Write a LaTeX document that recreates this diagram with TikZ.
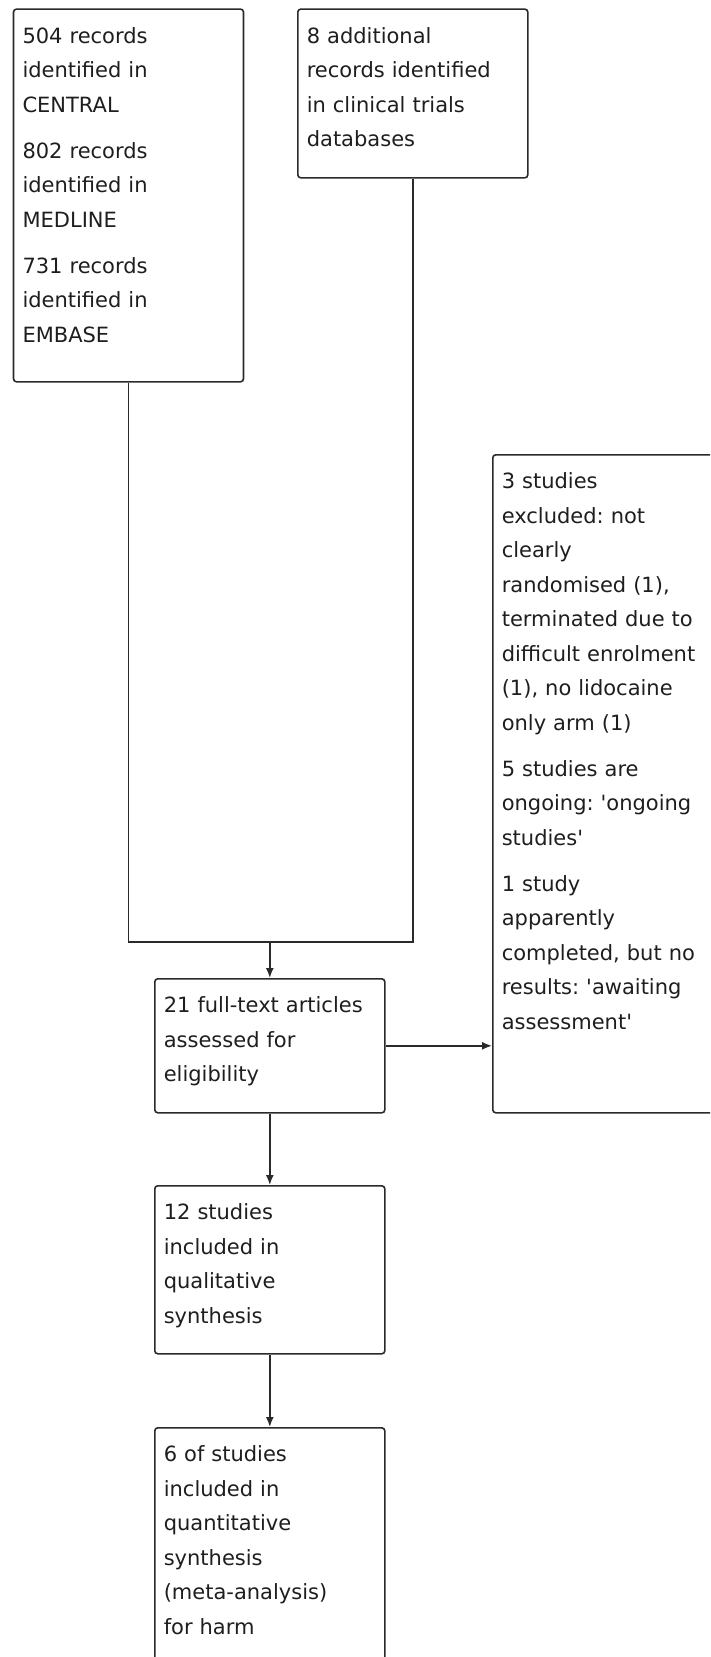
\documentclass[tikz,border=0pt]{standalone}
\usepackage{fontspec}
\setmainfont{DejaVu Sans}
\usetikzlibrary{arrows.meta}
\definecolor{boxline}{HTML}{2A2A2A}
\definecolor{boxtext}{HTML}{1E1E1E}
\newcommand{\sq}{\textquotesingle}
\frenchspacing
\begin{document}
\begin{tikzpicture}[x=1pt, y=-1pt,
    flowbox/.style={draw=boxline, line width=1.6pt, rounded corners=3pt,
      anchor=north west, align=left, text=boxtext,
      inner xsep=9pt, inner ysep=0pt, text width=212pt,
      text height=34pt, text depth=#1,
      font=\fontsize{21pt}{34.5pt}\selectfont},
    flow/.style={draw=boxline, line width=1.6pt},
    flowarrow/.style={flow, -{Latex[length=10pt, width=8pt]}}]
  \useasboundingbox (0,0) rectangle (710,1657);
  \clip (0,0) rectangle (710,1657);

  \node [flowbox=338.7pt] (records) at (12.7,8.3)
    {504 records\\identified in\\CENTRAL\\[11.5pt]
     802 records\\identified in\\MEDLINE\\[11.5pt]
     731 records\\identified in\\EMBASE};
  \node [flowbox=134.7pt] (trials) at (297,8.3)
    {8 additional\\records identified\\in clinical trials\\databases};
  \node [flowbox=624pt] (excluded) at (492,454)
    {3 studies\\excluded: not\\clearly\\randomised (1),\\terminated due to\\difficult enrolment\\(1), no lidocaine\\only arm (1)\\[11.5pt]
     5 studies are\\ongoing: \sq ongoing\\studies\sq\\[11.5pt]
     1 study\\apparently\\completed, but no\\results: \sq awaiting\\assessment\sq};
  \node [flowbox=100pt] (fulltext) at (154,978)
    {21 full-text articles\\assessed for\\eligibility};
  \node [flowbox=134pt] (qualitative) at (154,1185)
    {12 studies\\included in\\qualitative\\synthesis};
  \node [flowbox=300pt] (quantitative) at (154,1427)
    {6 of studies\\included in\\quantitative\\synthesis\\(meta-analysis)\\for harm};

  \coordinate (merge) at (fulltext.north |- 0,942);
  \draw [flow] (records.south) |- (merge) -| (trials.south);
  \draw [flowarrow] (merge) -- (fulltext.north);
  \draw [flowarrow] (fulltext.east) -- (fulltext.east -| excluded.west);
  \draw [flowarrow] (fulltext.south) -- (qualitative.north);
  \draw [flowarrow] (qualitative.south) -- (quantitative.north);
\end{tikzpicture}
\end{document}
